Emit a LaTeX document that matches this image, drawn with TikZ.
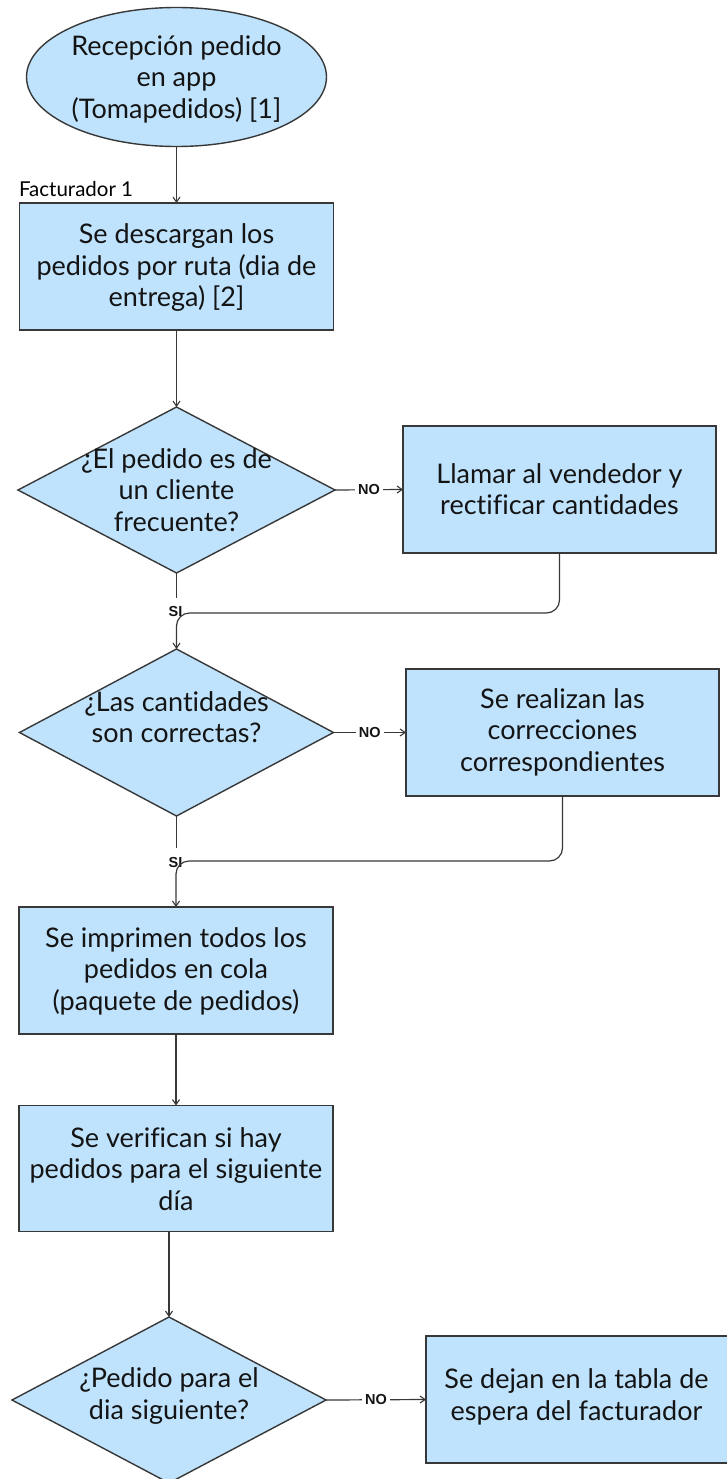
\documentclass[tikz,border=0pt]{standalone}
\usepackage{fontspec}
\setmainfont{Lato}[RawFeature=-liga]
\newfontfamily\lblfont{Liberation Sans}
\usetikzlibrary{shapes.geometric,arrows.meta}
\definecolor{boxfill}{HTML}{BFE3FD}
\definecolor{edge}{HTML}{383838}
\begin{document}
\begin{tikzpicture}[x=1pt,y=-1pt,
  every node/.style={inner sep=0pt,outer sep=0pt},
  txt/.style={align=center,font=\fontsize{27}{31.5}\selectfont,text=black!92},
  procbox/.style={draw=edge,line width=1.4pt,fill=boxfill,rectangle,inner sep=0pt},
  decision/.style={draw=edge,line width=1.4pt,fill=boxfill,diamond,inner sep=0pt},
  startnode/.style={draw=edge,line width=1.4pt,fill=boxfill,ellipse,inner sep=0pt,minimum width=300pt,minimum height=139pt},
  conn/.style={draw=edge,line width=1.2pt},
  arr/.style={conn,-{Straight Barb[length=5pt,width=7pt,line width=1.1pt]}},
  lbl/.style={font=\lblfont\bfseries\fontsize{14.5}{15}\selectfont,fill=white,inner sep=3pt,text=black!92}
]
\useasboundingbox (0,0) rectangle (727,1479);
\fill[white] (0,0) rectangle (727,1479);

% start ellipse
\node[startnode] (e1) at (176.5,77) {};
\node[txt] (e1t) at (176.5,79) {Recepción pedido\\en app\\(Tomapedidos) [1]};

% Facturador label
\node[anchor=west,font=\fontsize{20.5}{21}\selectfont] (fact) at (19,189) {Facturador 1};

% box 1
\node[procbox,minimum width=314pt,minimum height=127pt] (b1) at (176.5,266.5) {};
\node[txt] (b1t) at (176.5,268) {Se descargan los\\pedidos por ruta (dia de\\entrega) [2]};

% decision 1
\node[decision,minimum width=317pt,minimum height=166pt] (d1) at (176.5,490) {};
\node[txt] (d1t) at (176.5,490) {¿El pedido es de\\un cliente\\frecuente?};

% box llamar
\node[procbox,minimum width=313pt,minimum height=127pt] (bl) at (559.5,489.5) {};
\node[txt] (blt) at (559.5,489) {Llamar al vendedor y\\rectificar cantidades};

% decision 2
\node[decision,minimum width=314pt,minimum height=167pt] (d2) at (176.5,732.5) {};
\node[txt] (d2t) at (176.5,717) {¿Las cantidades\\son correctas?};

% box realizan
\node[procbox,minimum width=313pt,minimum height=127pt] (br) at (562.5,732.5) {};
\node[txt] (brt) at (562.5,732) {Se realizan las\\correcciones\\correspondientes};

% box 3
\node[procbox,minimum width=314pt,minimum height=127pt] (b3) at (176,970.5) {};
\node[txt] (b3t) at (176,971) {Se imprimen todos los\\pedidos en cola\\(paquete de pedidos)};

% box 4
\node[procbox,minimum width=314pt,minimum height=126pt] (b4) at (176,1168.5) {};
\node[txt] (b4t) at (176,1169) {Se verifican si hay\\pedidos para el siguiente\\día};

% decision 3
\node[decision,minimum width=314pt,minimum height=166pt] (d3) at (169,1400) {};
\node[txt] (d3t) at (169,1396) {¿Pedido para el\\dia siguiente?};

% box 5
\node[procbox,minimum width=304pt,minimum height=127pt] (b5) at (578,1399.5) {};
\node[txt] (b5t) at (576.5,1397) {Se dejan en la tabla de\\espera del facturador};

% connectors
\draw[arr] (e1.south) -- (b1.north);
\draw[arr] (b1.south) -- (d1.north);

\draw[arr] (d1.east) -- node[lbl] (no1) {NO} (bl.west);
\coordinate (s1) at (176.5,598);
\draw[conn] (d1.south) -- (s1);
\node[lbl,fill=none] (si1) at (175.5,612) {SI};
\coordinate (j1) at (176.5,613);
\draw[arr,rounded corners=13pt] (bl.south) |- (j1) -- (d2.north);

\draw[arr] (d2.east) -- node[lbl] (no2) {NO} (br.west);
\coordinate (s2) at (176.5,848);
\draw[conn] (d2.south) -- (s2);
\node[lbl,fill=none] (si2) at (175.5,862) {SI};
\coordinate (j2) at (176,861);
\draw[arr,rounded corners=13pt] (br.south) |- (j2) -- (b3.north);

\draw[arr] (b3.south) -- (b4.north);
\draw[arr] (d3.north |- b4.south) -- (d3.north);
\draw[arr] (d3.east) -- node[lbl] (no3) {NO} (b5.west);
\end{tikzpicture}
\end{document}
